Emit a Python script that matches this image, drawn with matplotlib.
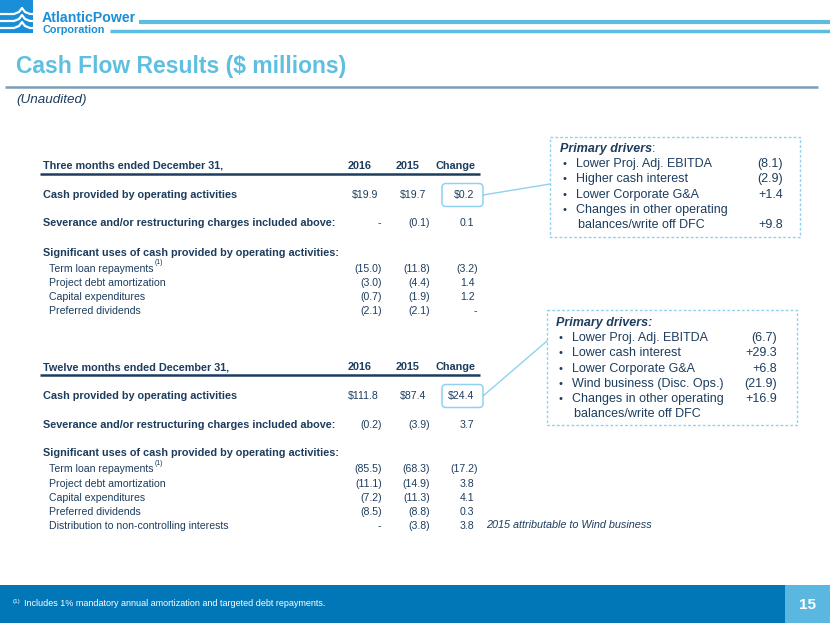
import matplotlib
matplotlib.use("Agg")
import matplotlib.pyplot as plt
from matplotlib.patches import Rectangle, FancyBboxPatch

plt.rcParams['font.family'] = ['Liberation Sans', 'DejaVu Sans']

# Colours
NAVY = "#1d3d5e"
TITLE_BLUE = "#5fbfe1"
LOGO_BLUE = "#1a8ed6"
LINE_BLUE = "#5dbde0"
BOX_BLUE = "#8fd2f0"
FOOT_DARK = "#0177b7"
FOOT_LIGHT = "#5ab8e0"
RULE_GREY = "#7f9db5"

# Data
TITLE = "Cash Flow Results ($ millions)"
SUBTITLE = "(Unaudited)"
COL_HEADERS = ["2016", "2015", "Change"]
USE_LABELS = ["Term loan repayments", "Project debt amortization",
              "Capital expenditures", "Preferred dividends",
              "Distribution to non-controlling interests"]

q_header = "Three months ended December 31,"
q_cash = ["$19.9", "$19.7", "$0.2"]
q_sev = [None, -0.1, 0.1]
q_use_2016 = [-15.0, -3.0, -0.7, -2.1]
q_use_2015 = [-11.8, -4.4, -1.9, -2.1]
q_use_change = [-3.2, 1.4, 1.2, None]

y_header = "Twelve months ended December 31,"
y_cash = ["$111.8", "$87.4", "$24.4"]
y_sev = [-0.2, -3.9, 3.7]
y_use_2016 = [-85.5, -11.1, -7.2, -8.5, None]
y_use_2015 = [-68.3, -14.9, -11.3, -8.8, -3.8]
y_use_change = [-17.2, 3.8, 4.1, 0.3, 3.8]
y_note = "2015 attributable to Wind business"

q_drivers = ["Lower Proj. Adj. EBITDA", "Higher cash interest",
             "Lower Corporate G&A", "Changes in other operating"]
q_driver_vals = ["(8.1)", "(2.9)", "+1.4", "+9.8"]
y_drivers = ["Lower Proj. Adj. EBITDA", "Lower cash interest",
             "Lower Corporate G&A", "Wind business (Disc. Ops.)",
             "Changes in other operating"]
y_driver_vals = ["(6.7)", "+29.3", "+6.8", "(21.9)", "+16.9"]
driver_tail = "balances/write off DFC"

FOOTNOTE = "Includes 1% mandatory annual amortization and targeted debt repayments."
PAGE = "15"

# Layout (pixel coordinates, y down)
COL_X = [382, 430, 478]
HEAD_X = [372, 419, 475]
FS_B = 7.8   # bold table text
FS_R = 7.6   # regular table text


def fmt(v):
    if v is None:
        return "-"
    if v < 0:
        return f"({-v:.1f})"
    return f"{v:.1f}"


fig = plt.figure(figsize=(8.3, 6.23), dpi=100)
ax = fig.add_axes([0, 0, 1, 1])
ax.set_xlim(0, 830)
ax.set_ylim(623, 0)
ax.axis("off")


def value(x, y, s):
    # accounting alignment: parentheses hang past the digits
    if s.endswith(")"):
        xx = x
    elif s == "-":
        xx = x - 1
    else:
        xx = x - 3.5
    ax.text(xx, y, s, ha="right", va="center", fontsize=FS_R, color=NAVY)


def super1(t, size=5, color=NAVY):
    ax.annotate("(1)", xy=(1, 0.75), xycoords=t, xytext=(0.5, 0),
                textcoords="offset points", ha="left", va="bottom",
                fontsize=size, color=color)


def table(top, header, cash, sev, u16, u15, uch):
    ax.text(43, top, header, fontsize=FS_B, fontweight="bold", color=NAVY,
            va="center")
    for hx, h in zip(HEAD_X, COL_HEADERS):
        ax.text(hx, top, h, fontsize=FS_B, fontweight="bold", color=NAVY,
                ha="right", va="center")
    ax.plot([40, 480], [top + 7.5, top + 7.5], color=NAVY, lw=1.8,
            solid_capstyle="butt")

    yc = top + 29
    ax.text(43, yc, "Cash provided by operating activities", fontsize=FS_B,
            fontweight="bold", color=NAVY, va="center")
    for cx, s in zip(COL_X, cash):
        value(cx, yc, s)
    box = FancyBboxPatch((442, yc - 11.5), 41, 23,
                         boxstyle="round,pad=0,rounding_size=4",
                         fc="none", ec=BOX_BLUE, lw=1.1)
    ax.add_patch(box)

    ys = top + 57.5
    ax.text(43, ys, "Severance and/or restructuring charges included above:",
            fontsize=FS_B, fontweight="bold", color=NAVY, va="center")
    for cx, v in zip(COL_X, sev):
        value(cx, ys, fmt(v))

    yg = top + 86.5
    ax.text(43, yg, "Significant uses of cash provided by operating activities:",
            fontsize=FS_B, fontweight="bold", color=NAVY, va="center")
    for i in range(len(u16)):
        yy = yg + 16 + i * 14.2
        t = ax.text(49, yy, USE_LABELS[i], fontsize=FS_R, color=NAVY,
                    va="center")
        if i == 0:
            super1(t)
        for cx, v in zip(COL_X, [u16[i], u15[i], uch[i]]):
            value(cx, yy, fmt(v))
    return yc


yc1 = table(166, q_header, q_cash, q_sev, q_use_2016, q_use_2015,
            q_use_change)
yc2 = table(367, y_header, y_cash, y_sev, y_use_2016, y_use_2015,
            y_use_change)
ax.text(486, 525, y_note, fontsize=7.8, style="italic", color=NAVY,
        va="center")


def drivers(x0, y0, x1, y1, tx, ty, items, vals, vx, tail_first, colon_bold):
    ax.add_patch(Rectangle((x0, y0), x1 - x0, y1 - y0, fc="none",
                           ec=BOX_BLUE, lw=1.0, ls=(0, (2, 1.5))))
    if colon_bold:
        ax.text(tx, ty, "Primary drivers:", fontsize=9, fontweight="bold",
                style="italic", color=NAVY, va="center")
    else:
        t = ax.text(tx, ty, "Primary drivers", fontsize=9, fontweight="bold",
                    style="italic", color=NAVY, va="center")
        ax.annotate(":", xy=(1, 0.5), xycoords=t, ha="left", va="center",
                    fontsize=9, color=NAVY)
    for i, (lab, v) in enumerate(zip(items, vals)):
        yy = ty + 15.2 * (i + 1)
        ax.text(tx + 2, yy, "\u2022", fontsize=8, color=NAVY, va="center")
        ax.text(tx + 16, yy, lab, fontsize=9, color=NAVY, va="center")
        last = i == len(items) - 1
        vy = yy + 15.2 if (last and not tail_first) else yy
        ax.text(vx, vy, v, fontsize=9, color=NAVY, ha="right", va="center")
    ax.text(tx + 18, ty + 15.2 * (len(items) + 1), driver_tail, fontsize=9,
            color=NAVY, va="center")


drivers(550, 137, 800, 237, 560, 149, q_drivers, q_driver_vals, 783,
        False, False)
drivers(547, 310, 797, 425, 556, 323, y_drivers, y_driver_vals, 777,
        True, True)

# connectors
ax.plot([483, 550], [yc1, 184], color=BOX_BLUE, lw=1.0)
ax.plot([483, 547], [yc2, 341], color=BOX_BLUE, lw=1.0)

# header: logo, lines, title
ax.add_patch(Rectangle((0, 0), 33, 33, fc=LOGO_BLUE, ec="none"))
for base in (14, 21, 28):
    ax.plot([0, 14, 19, 22, 25, 30, 33], [base, base, base - 2, base - 6,
            base - 2, base, base], color="white", lw=1.6)
ax.text(42, 18.5, "AtlanticPower", fontsize=10.2, fontweight="bold",
        color=LOGO_BLUE, va="center")
ax.text(42, 30, "Corporation", fontsize=7.8, fontweight="bold",
        color=LOGO_BLUE, va="center")
ax.plot([139, 830], [22, 22], color=LINE_BLUE, lw=3, solid_capstyle="butt")
ax.plot([110, 830], [31, 31], color=LINE_BLUE, lw=2.5, solid_capstyle="butt")

ax.text(16, 66, TITLE, fontsize=16.5, fontweight="bold", color=TITLE_BLUE,
        va="center")
ax.plot([5, 818], [87, 87], color=RULE_GREY, lw=1.8, solid_capstyle="butt")
ax.text(16, 100, SUBTITLE, fontsize=9.7, style="italic", color=NAVY,
        va="center")

# footer band
ax.add_patch(Rectangle((0, 585), 785, 38, fc=FOOT_DARK, ec="none"))
ax.add_patch(Rectangle((785, 585), 45, 38, fc=FOOT_LIGHT, ec="none"))
ax.text(13, 603.5, "(1)", fontsize=4.5, color="white", va="bottom")
ax.text(24, 603.5, FOOTNOTE, fontsize=6.5, color="white", va="center")
ax.text(807, 605, PAGE, fontsize=11, fontweight="bold", color="white",
        ha="center", va="center")

fig.savefig("out.png", dpi=100)
